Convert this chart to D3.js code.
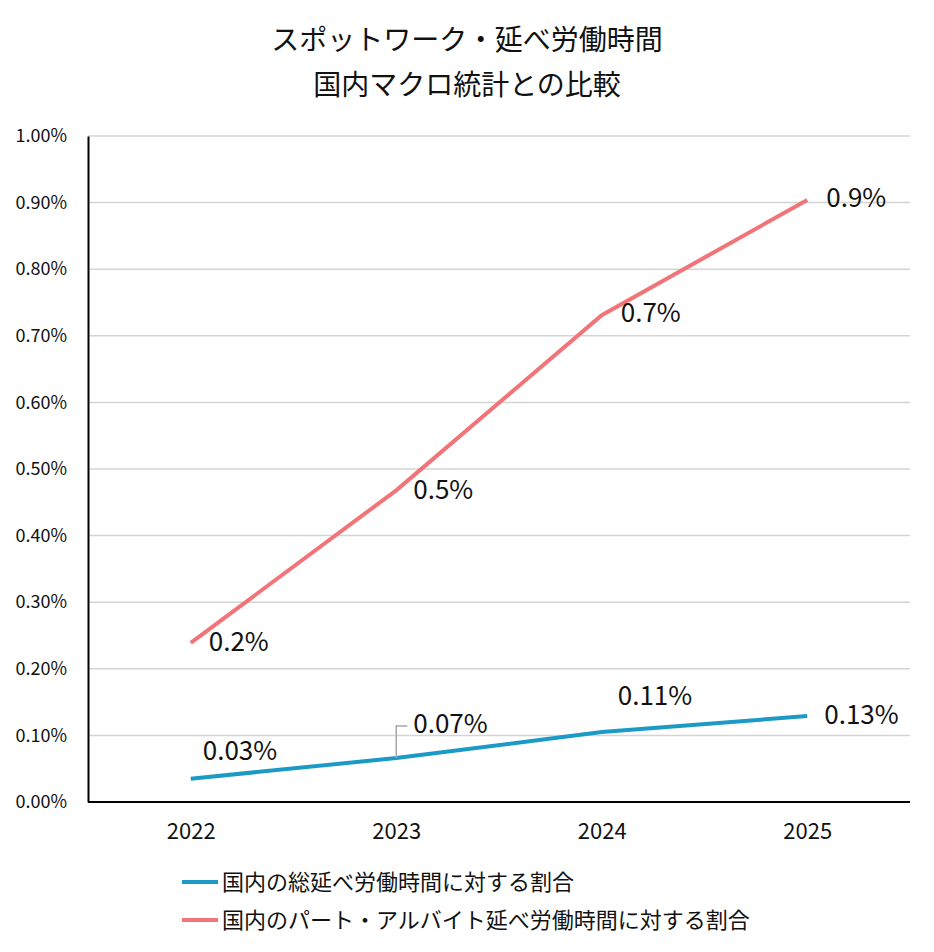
<!DOCTYPE html>
<html>
<head>
<meta charset="utf-8">
<script src="https://cdn.jsdelivr.net/npm/d3@7"></script>
<style>
  body { margin: 0; background: #fff; }
  svg text { font-family: "Noto Sans CJK JP", "Noto Sans", sans-serif; fill: #111; }
</style>
</head>
<body>
<div class="chart"></div>
<script>
// data (values in %)
const years = ["2022", "2023", "2024", "2025"];
const totalShare = [0.035, 0.066, 0.105, 0.129];
const partShare = [0.239, 0.468, 0.731, 0.904];
const totalLabels = ["0.03%", "0.07%", "0.11%", "0.13%"];
const partLabels = ["0.2%", "0.5%", "0.7%", "0.9%"];
const yTicks = [0, 0.1, 0.2, 0.3, 0.4, 0.5, 0.6, 0.7, 0.8, 0.9, 1.0];
const seriesNames = ["国内の総延べ労働時間に対する割合", "国内のパート・アルバイト延べ労働時間に対する割合"];
const titleLines = ["スポットワーク・延べ労働時間", "国内マクロ統計との比較"];

const W = 934, H = 952;
const margin = {top: 136, left: 88, right: 24, bottom: 150};
const width = W - margin.left - margin.right;
const height = H - margin.top - margin.bottom;

const blue = "#1b9ac6", pink = "#f27479";

const svg = d3.select(".chart").append("svg")
  .attr("width", W).attr("height", H);

svg.selectAll(".title")
  .data(titleLines)
  .enter().append("text")
  .attr("x", W / 2)
  .attr("y", (d, i) => 50 + i * 45)
  .attr("text-anchor", "middle")
  .attr("font-size", 28)
  .text(d => d);

const g = svg.append("g")
  .attr("transform", `translate(${margin.left},${margin.top})`);

const xScale = d3.scalePoint().domain(years).range([0, width]).padding(0.5);
const yScale = d3.scaleLinear().domain([0, 1]).range([height, 0]);

// gridlines
g.selectAll(".grid")
  .data(yTicks.slice(1))
  .enter().append("line")
  .attr("x1", 0).attr("x2", width)
  .attr("y1", d => yScale(d)).attr("y2", d => yScale(d))
  .attr("stroke", "#d4d4d4").attr("stroke-width", 1.5);

const yAxis = d3.axisLeft(yScale).tickValues(yTicks)
  .tickFormat(d => d.toFixed(2) + "%").tickSize(0).tickPadding(21);
g.append("g").call(yAxis)
  .call(a => a.select(".domain").attr("stroke", "#000").attr("stroke-width", 2))
  .call(a => a.selectAll("text").attr("font-size", 18).attr("text-anchor", "end"));

const xAxis = d3.axisBottom(xScale).tickSize(0).tickPadding(21);
g.append("g").attr("transform", `translate(0,${height})`).call(xAxis)
  .call(a => a.select(".domain").attr("stroke", "#000").attr("stroke-width", 2).attr("d", `M0,0H${width}`))
  .call(a => a.selectAll("text").attr("font-size", 22));

const line = d3.line()
  .x((d, i) => xScale(years[i]))
  .y(d => yScale(d));

g.append("path").datum(partShare)
  .attr("fill", "none").attr("stroke", pink).attr("stroke-width", 4)
  .attr("d", line);
g.append("path").datum(totalShare)
  .attr("fill", "none").attr("stroke", blue).attr("stroke-width", 4)
  .attr("d", line);

// leader line for 0.07%
const lx = xScale(years[1]);
g.append("path")
  .attr("d", `M${lx},${yScale(totalShare[1])}V${yScale(totalShare[1]) - 32}H${lx + 11}`)
  .attr("fill", "none").attr("stroke", "#a6a6a6").attr("stroke-width", 1.5);

// data labels: offsets relative to the point
const partOffsets = [[18, -1], [17, 0], [19, -2], [19, -2]];
const totalOffsets = [[12, -28], [17, -34], [16, -36], [17, -1]];

g.selectAll(".plabel")
  .data(partShare)
  .enter().append("text")
  .attr("x", (d, i) => xScale(years[i]) + partOffsets[i][0])
  .attr("y", (d, i) => yScale(d) + partOffsets[i][1])
  .attr("dy", "0.35em")
  .attr("font-size", 26)
  .text((d, i) => partLabels[i]);

g.selectAll(".tlabel")
  .data(totalShare)
  .enter().append("text")
  .attr("x", (d, i) => xScale(years[i]) + totalOffsets[i][0])
  .attr("y", (d, i) => yScale(d) + totalOffsets[i][1])
  .attr("dy", "0.35em")
  .attr("font-size", 26)
  .text((d, i) => totalLabels[i]);

// legend
const legend = svg.selectAll(".legend")
  .data(seriesNames)
  .enter().append("g")
  .attr("transform", (d, i) => `translate(182,${882 + i * 38})`);
legend.append("line")
  .attr("x1", 0).attr("x2", 36)
  .attr("stroke", (d, i) => i === 0 ? blue : pink).attr("stroke-width", 4);
legend.append("text")
  .attr("x", 40).attr("dy", "0.35em")
  .attr("font-size", 22)
  .text(d => d);
</script>
</body>
</html>
